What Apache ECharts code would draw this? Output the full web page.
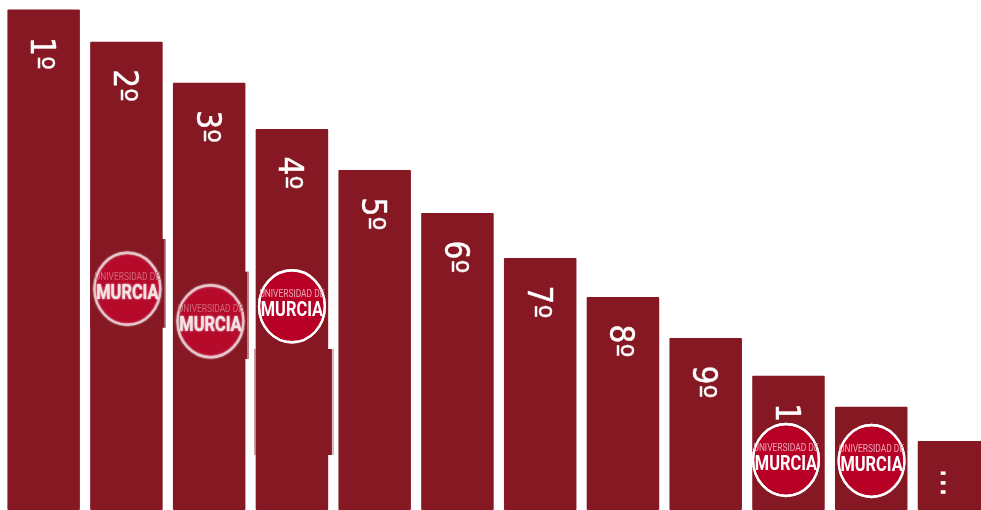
<!DOCTYPE html>
<html>
<head>
<meta charset="utf-8">
<style>
html, body { margin: 0; padding: 0; background: #fff; overflow: hidden; }
#chart { width: 1000px; height: 510px; }
</style>
<script src="https://cdn.jsdelivr.net/npm/echarts@6/dist/echarts.min.js"></script>
</head>
<body>
<div id="chart"></div>
<script>
// Ranking bars, tallest first
const rankLabels = ['1º', '2º', '3º', '4º', '5º', '6º', '7º', '8º', '9º', '10º', '11º', '...'];
const barValues = [500.5, 468.3, 427.3, 381, 340, 297, 252, 213, 172, 134.3, 103.3, 69];

// University badges placed on top of some bars
const badgeRanks = ['2º', '3º', '4º', '10º', '11º'];
const badgeLevels = [221.2, 188.8, 203.7, 50, 49];
const badgeSoft = [true, true, false, false, false];

// Slightly wider bands behind a few of the bars
const bandRanks = ['2º', '3º', '4º'];
const bandTops = [271, 238.3, 161];
const bandBottoms = [182.3, 151, 55];

const BAR = '#851823';
const chart = echarts.init(document.getElementById('chart'), null, { renderer: 'canvas' });

function renderBand(params, api) {
  const top = api.coord([api.value(0), api.value(1)]);
  const bottom = api.coord([api.value(0), api.value(2)]);
  const i = params.dataIndex;
  const left = [-36.2, -36.2, -37.5][i];
  const right = [39.5, 39.5, 41.5][i];
  const edge = ['#c98f96', '#c98f96', '#e3c3c7'][i];
  const h = bottom[1] - top[1];
  return {
    type: 'group',
    children: [
      { type: 'rect', shape: { x: top[0] + left, y: top[1], width: right - left, height: h },
        style: { fill: BAR } },
      { type: 'rect', shape: { x: top[0] + right - 1.5, y: top[1], width: 1.5, height: h },
        style: { fill: edge } },
      { type: 'rect', shape: { x: top[0] + left, y: top[1], width: i === 2 ? 1.5 : 0, height: h },
        style: { fill: edge } }
    ]
  };
}

function renderBadge(params, api) {
  const c = api.coord([api.value(0), api.value(1)]);
  const soft = api.value(2) === 1;
  const nudge = [1, 1.3, 0, -2.5, 0.3][params.dataIndex];
  const ringColor = soft ? '#e6c6ca' : '#ffffff';
  return {
    type: 'group',
    x: c[0] + nudge,
    y: c[1],
    children: [
      {
        type: 'circle',
        scaleX: 0.915,
        shape: { cx: 0, cy: 0, r: 36 },
        style: {
          fill: soft ? '#b60a2b' : '#b80027',
          stroke: ringColor,
          lineWidth: 2.4,
          shadowBlur: soft ? 2 : 0.6,
          shadowColor: ringColor
        }
      },
      {
        type: 'text',
        x: 0,
        y: -11.5,
        scaleX: 0.84,
        style: {
          text: 'UNIVERSIDAD DE',
          fontFamily: 'Roboto',
          fontSize: 10,
          fill: soft ? '#cf6a79' : '#eaa9b4',
          align: 'center',
          verticalAlign: 'middle'
        }
      },
      {
        type: 'text',
        x: 0,
        y: 4.5,
        scaleX: 0.78,
        style: {
          text: 'MURCIA',
          fontFamily: 'Roboto',
          fontWeight: 'bold',
          fontSize: 21,
          fill: soft ? '#f5e2e5' : '#ffffff',
          align: 'center',
          verticalAlign: 'middle',
          textShadowBlur: soft ? 2 : 0,
          textShadowColor: '#ffffff'
        }
      }
    ]
  };
}

chart.setOption({
  animation: false,
  backgroundColor: '#ffffff',
  grid: { left: 2.27, top: 0, width: 993.1, height: 510, containLabel: false },
  xAxis: { type: 'category', data: rankLabels, show: false },
  yAxis: { type: 'value', min: 0, max: 510, show: false },
  series: [
    {
      type: 'custom',
      z: 1,
      clip: false,
      renderItem: renderBand,
      encode: { x: 0, y: [1, 2] },
      data: bandRanks.map((r, i) => [r, bandTops[i], bandBottoms[i]])
    },
    {
      type: 'bar',
      z: 2,
      barWidth: 72.5,
      data: barValues,
      itemStyle: { color: BAR, borderRadius: 1 },
      label: {
        show: true,
        position: 'insideTop',
        distance: 28,
        rotate: -90,
        align: 'left',
        verticalAlign: 'middle',
        offset: [-0.5, 4],
        color: '#ffffff',
        textBorderColor: '#ffffff',
        textBorderWidth: 0.4,
        fontFamily: '"DejaVu Sans Condensed", "DejaVu Sans"',
        fontSize: 33,
        formatter: (p) => rankLabels[p.dataIndex]
      }
    },
    {
      type: 'custom',
      z: 3,
      clip: false,
      renderItem: renderBadge,
      encode: { x: 0, y: 1 },
      data: badgeRanks.map((r, i) => [r, badgeLevels[i], badgeSoft[i] ? 1 : 0])
    }
  ]
});
</script>
</body>
</html>
